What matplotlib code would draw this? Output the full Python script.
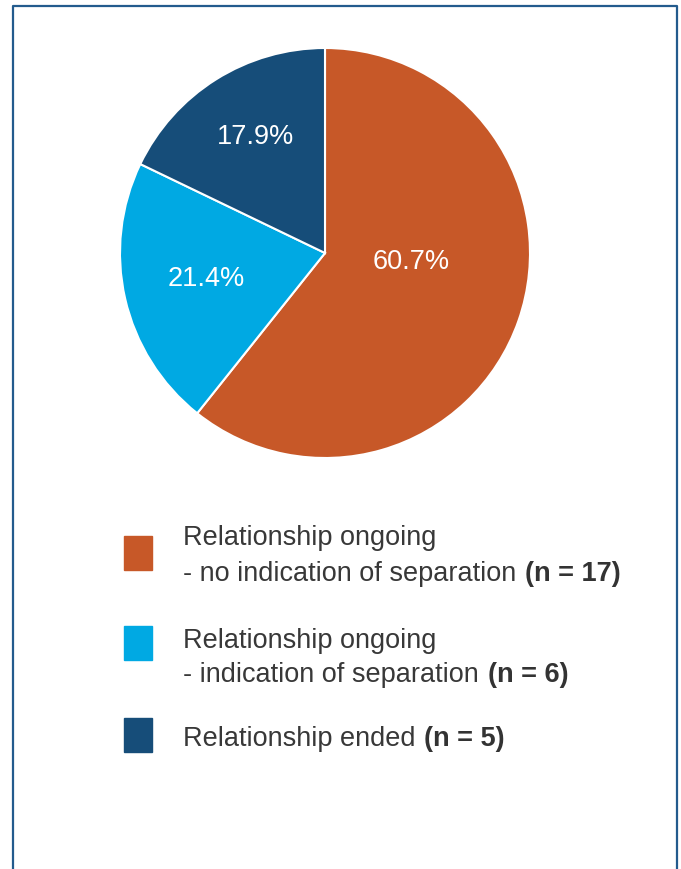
import matplotlib.pyplot as plt
from matplotlib.patches import Rectangle

# data
categories = ["Relationship ongoing\n- no indication of separation",
              "Relationship ongoing\n- indication of separation",
              "Relationship ended"]
counts = [17, 6, 5]
n_labels = ["(n = 17)", "(n = 6)", "(n = 5)"]
colors = ["#C75828", "#00A9E3", "#164D79"]

W, H = 681, 870
fig = plt.figure(figsize=(W / 100, H / 100), dpi=100)
plt.rcParams['font.family'] = ['Liberation Sans', 'DejaVu Sans']

# frame round the panel (open at the bottom)
fig.add_artist(plt.Line2D([12.5 / W, 12.5 / W, 676.5 / W, 676.5 / W],
                          [0, 1 - 6.5 / H, 1 - 6.5 / H, 0],
                          transform=fig.transFigure, color="#235B8D", lw=1.6))

# pie
cx, cy, r = 325, 254, 205
ax = fig.add_axes([(cx - r) / W, 1 - (cy + r) / H, 2 * r / W, 2 * r / H])
wedges, texts, autotexts = ax.pie(counts, colors=colors, startangle=90,
                                  counterclock=False, autopct="%.1f%%",
                                  pctdistance=0.6,
                                  wedgeprops=dict(edgecolor="white", linewidth=1.5),
                                  textprops=dict(color="white", fontsize=19.5))
ax.set_xlim(-1, 1)
ax.set_ylim(-1, 1)
ax.axis("off")

# nudge the percent labels where the original puts them
label_pos = [(0.42, -0.04), (-0.58, -0.12), (-0.34, 0.57)]
for t, p in zip(autotexts, label_pos):
    t.set_position(p)

# legend drawn by hand
box_top = [537, 627, 719]
baselines = [[545, 581], [648, 682], [746]]
fs = 19.5
fig.canvas.draw()
renderer = fig.canvas.get_renderer()
for i, (cat, nl, col) in enumerate(zip(categories, n_labels, colors)):
    fig.add_artist(Rectangle((124 / W, 1 - (box_top[i] + 34) / H), 28 / W, 34 / H,
                             transform=fig.transFigure, color=col))
    lines = cat.split("\n")
    for j, line in enumerate(lines):
        y = baselines[i][j]
        t = fig.text(183 / W, 1 - y / H, line, fontsize=fs, color="#383838",
                     va="baseline", ha="left")
        if j == len(lines) - 1:
            bb = t.get_window_extent(renderer)
            fig.text((bb.x1 + 9) / W, 1 - y / H, nl, fontsize=fs,
                     color="#333333", fontweight="bold", va="baseline", ha="left")

fig.savefig("out.png", dpi=100)
